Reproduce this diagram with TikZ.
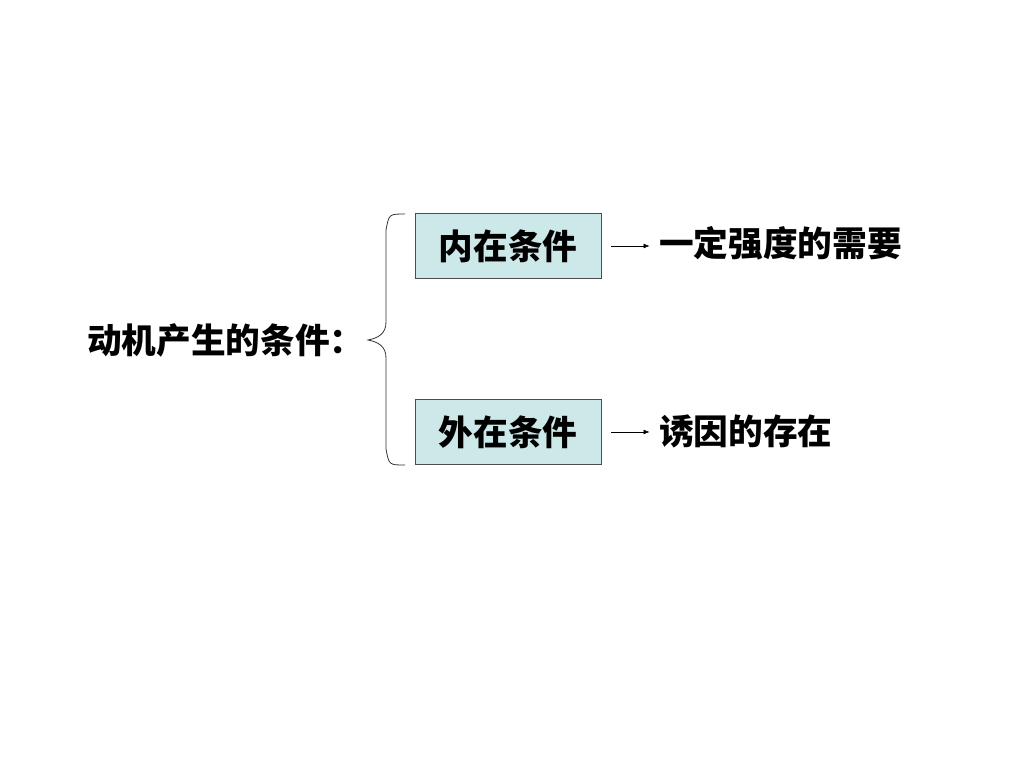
\documentclass[tikz,border=0pt]{standalone}
\usepackage{fontspec}
\usepackage{tikz}
\usetikzlibrary{arrows.meta}
\newfontfamily\cjk{Noto Sans CJK SC}

\begin{document}
\begin{tikzpicture}[x=0.75pt,y=-0.75pt,
  condbox/.style={draw=black!70,fill={rgb,255:red,204;green,232;blue,232},minimum width=139.5pt,minimum height=48.5pt,inner sep=0pt},
  cjktext/.style={font=\cjk\bfseries\fontsize{26}{30}\selectfont,inner sep=0pt}]
\useasboundingbox (0,0) rectangle (1024,768);

\node[cjktext,anchor=west] (motive) at (87,340) {动机产生的条件：};

\node[condbox,cjktext] (inner) at (508,246) {内在条件};
\node[condbox,cjktext] (outer) at (508,432) {外在条件};

\node[cjktext,anchor=west] (need) at (659,243) {一定强度的需要};
\node[cjktext,anchor=west] (lure) at (659,431) {诱因的存在};

% brace
\draw[black!80,semithick] (405,214) .. controls (389,214) .. (386,230) -- (386,322)
  .. controls (386,334) and (378,338) .. (368,340)
  .. controls (378,342) and (386,346) .. (386,358) -- (386,449)
  .. controls (389,465) .. (405,465);

\draw[-{Latex[length=4.5pt,width=3.5pt]},shorten <=7.5pt,shorten >=7pt] (inner.east) -- (inner.east -| need.west);
\draw[-{Latex[length=4.5pt,width=3.5pt]},shorten <=7.5pt,shorten >=7pt] (outer.east) -- (outer.east -| lure.west);
\end{tikzpicture}
\end{document}
